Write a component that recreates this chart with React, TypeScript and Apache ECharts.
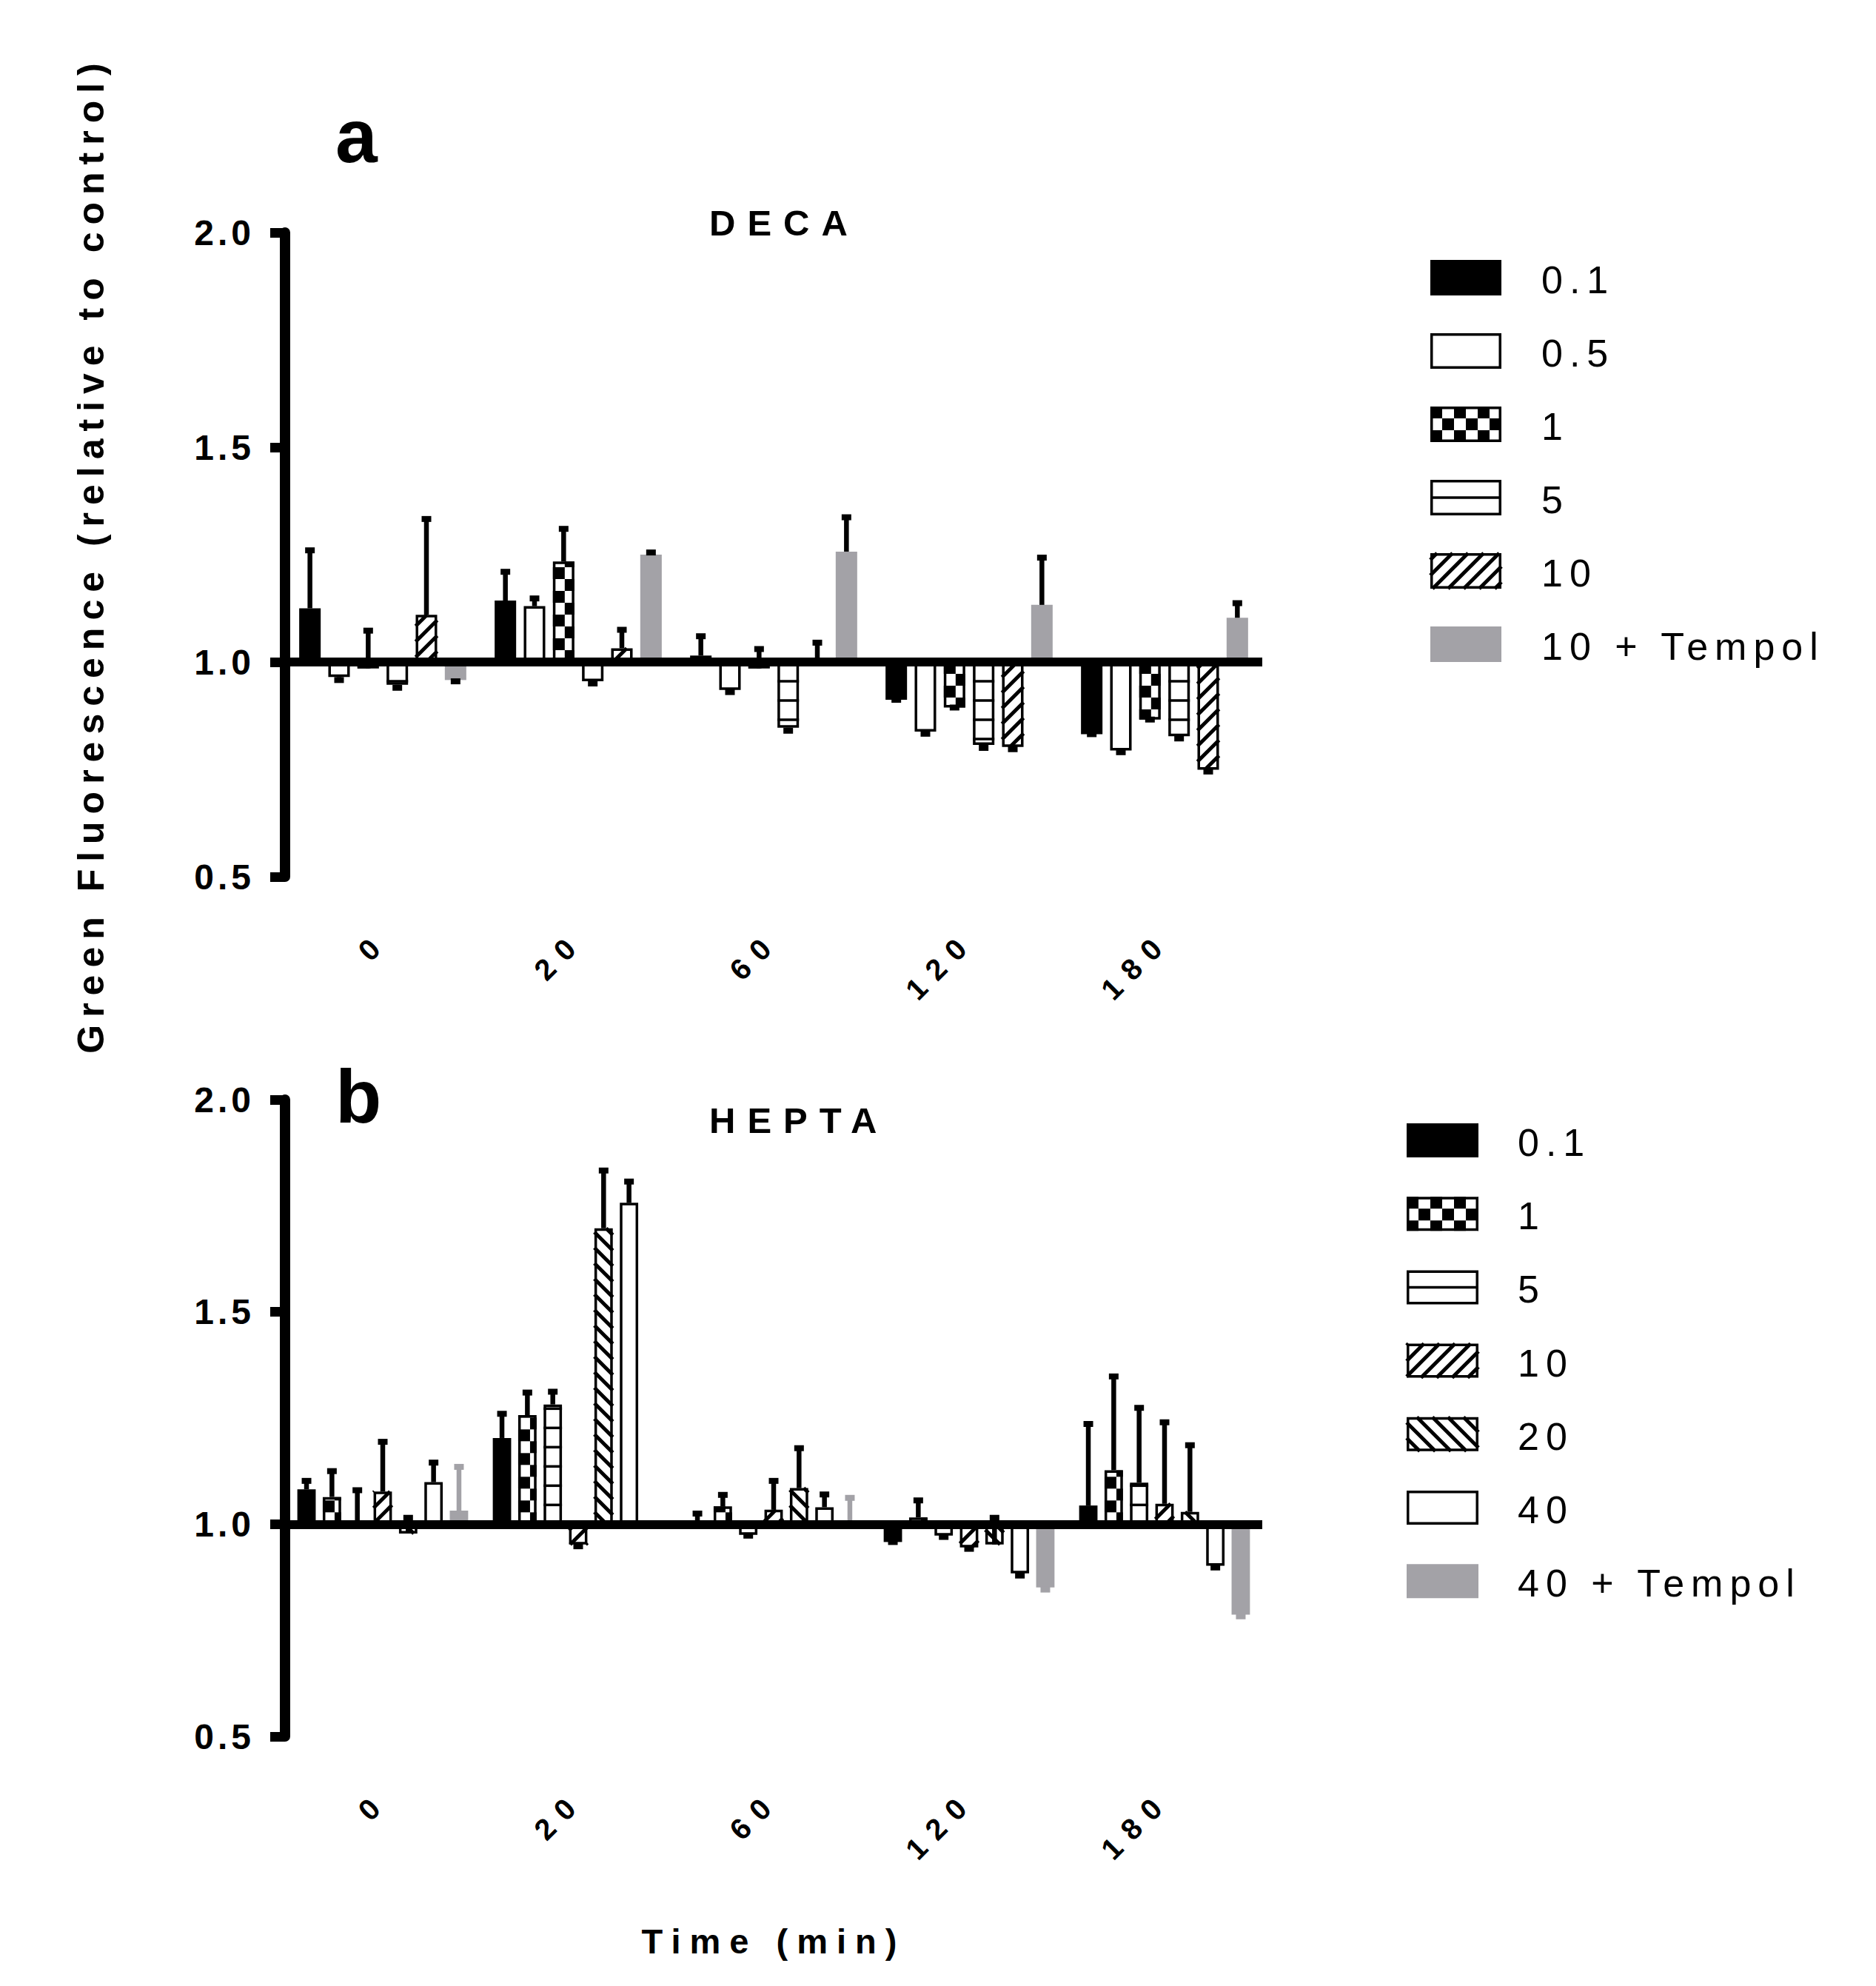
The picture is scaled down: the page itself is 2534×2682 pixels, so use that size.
import React, { useEffect, useRef } from 'react';
import * as echarts from 'echarts';

// ---------------- DATA ----------------
const CATEGORIES = ['0', '20', '60', '120', '180'];

// Panel a: DECA
const DECA_NAMES = ['0.1', '0.5', '1', '5', '10', '10 + Tempol'];
const DECA_01 = [1.125, 1.143, 1.015, 0.912, 0.832];
const DECA_01_ERR = [1.26, 1.21, 1.06, 0.912, 0.832];
const DECA_05 = [0.965, 1.13, 0.935, 0.838, 0.794];
const DECA_05_ERR = [0.958, 1.148, 0.93, 0.833, 0.79];
const DECA_1 = [0.985, 1.234, 0.985, 0.894, 0.866];
const DECA_1_ERR = [1.073, 1.31, 1.03, 0.894, 0.866];
const DECA_5 = [0.947, 0.955, 0.847, 0.807, 0.827];
const DECA_5_ERR = [0.94, 0.95, 0.84, 0.8, 0.822];
const DECA_10 = [1.11, 1.032, 1.005, 0.802, 0.749];
const DECA_10_ERR = [1.333, 1.075, 1.045, 0.797, 0.745];
const DECA_10T = [0.958, 1.25, 1.257, 1.133, 1.103];
const DECA_10T_ERR = [0.955, 1.255, 1.337, 1.243, 1.137];

// Panel b: HEPTA
const HEPTA_NAMES = ['0.1', '1', '5', '10', '20', '40', '40 + Tempol'];
const HEPTA_01 = [1.082, 1.203, 1.003, 0.958, 1.044];
const HEPTA_01_ERR = [1.102, 1.26, 1.025, 0.958, 1.236];
const HEPTA_1 = [1.064, 1.257, 1.042, 1.016, 1.127];
const HEPTA_1_ERR = [1.125, 1.31, 1.069, 1.056, 1.348];
const HEPTA_5 = [1.005, 1.282, 0.975, 0.973, 1.098];
const HEPTA_5_ERR = [1.08, 1.312, 0.973, 0.97, 1.274];
const HEPTA_10 = [1.077, 0.952, 1.034, 0.945, 1.048];
const HEPTA_10_ERR = [1.194, 0.948, 1.102, 0.942, 1.24];
const HEPTA_20 = [0.978, 1.697, 1.085, 0.952, 1.029];
const HEPTA_20_ERR = [1.015, 1.833, 1.179, 1.015, 1.186];
const HEPTA_40 = [1.099, 1.757, 1.04, 0.884, 0.902];
const HEPTA_40_ERR = [1.145, 1.807, 1.07, 0.879, 0.898];
const HEPTA_40T = [1.032, 1.0, 1.0, 0.851, 0.787];
const HEPTA_40T_ERR = [1.135, 1.0, 1.062, 0.846, 0.783];

const Y_TICKS_MIN = 0.5;
const Y_TICKS_MAX = 2.0;
const Y_TICKS_STEP = 0.5;

// ---------------- STYLE ----------------
const FONT = '"Liberation Sans", Arial, Helvetica, sans-serif';
const GRAY = '#a3a2a7';
// letter spacing by font size (px)
const SPACING: Record<number, number> = { 40: 15, 48: 5, 52: 9, 49: 16, 47: 12, 50: 10 };

type Kind = 'solid' | 'white' | 'checker' | 'hlines' | 'fwd' | 'back' | 'gray';

const DECA_KINDS: Kind[] = ['solid', 'white', 'checker', 'hlines', 'fwd', 'gray'];
const HEPTA_KINDS: Kind[] = ['solid', 'checker', 'hlines', 'fwd', 'back', 'white', 'gray'];
const DECA_ERRCOL = ['#000', '#000', '#000', '#000', '#000', '#000'];
const HEPTA_ERRCOL = ['#000', '#000', '#000', '#000', '#000', '#000', GRAY];

function rectEl(x: number, y: number, w: number, h: number, style: any) {
  return { type: 'rect', shape: { x, y, width: w, height: h }, style };
}
function lineEl(x1: number, y1: number, x2: number, y2: number, stroke: string, lw: number) {
  return { type: 'line', shape: { x1, y1, x2, y2 }, style: { stroke, lineWidth: lw, fill: null } };
}

function patternEls(x0: number, y0: number, x1: number, y1: number, kind: Kind, anchorY: number, hlineSp: number) {
  const els: any[] = [];
  const w = x1 - x0;
  const h = y1 - y0;
  const lw = 3.5;
  if (w <= 0 || h <= 0.3) return els;
  if (kind === 'solid') {
    els.push(rectEl(x0, y0, w, h, { fill: '#000' }));
    return els;
  }
  if (kind === 'gray') {
    els.push(rectEl(x0, y0, w, h, { fill: GRAY }));
    return els;
  }
  if (h < 2 * lw + 1) {
    els.push(rectEl(x0, y0, w, h, { fill: '#000' }));
    return els;
  }
  els.push(rectEl(x0, y0, w, h, { fill: '#fff' }));
  if (kind === 'checker') {
    const sq = 16;
    const kStart = Math.floor((y0 - anchorY) / sq);
    const kEnd = Math.ceil((y1 - anchorY) / sq);
    for (let k = kStart; k < kEnd; k++) {
      const ry0 = Math.max(y0, anchorY + k * sq);
      const ry1 = Math.min(y1, anchorY + (k + 1) * sq);
      if (ry1 - ry0 <= 0) continue;
      for (let j = 0; x0 + j * sq < x1; j++) {
        if ((((j + k) % 2) + 2) % 2 !== 0) continue;
        const rx0 = x0 + j * sq;
        const rx1 = Math.min(x1, rx0 + sq);
        els.push(rectEl(rx0, ry0, rx1 - rx0, ry1 - ry0, { fill: '#000' }));
      }
    }
  } else if (kind === 'hlines') {
    const kStart = Math.ceil((y0 - anchorY) / hlineSp);
    const kEnd = Math.floor((y1 - anchorY) / hlineSp);
    for (let k = kStart; k <= kEnd; k++) {
      const yy = anchorY + k * hlineSp;
      if (yy > y0 + 3 && yy < y1 - 3) els.push(lineEl(x0, yy, x1, yy, '#000', 3.5));
    }
  } else if (kind === 'fwd') {
    const sp = 21;
    const cMin = x0 + y0;
    const cMax = x1 + y1;
    for (let c = Math.ceil(cMin / sp) * sp; c <= cMax; c += sp) {
      const xa = Math.max(x0, c - y1);
      const xb = Math.min(x1, c - y0);
      if (xb - xa > 0.5) els.push(lineEl(xa, c - xa, xb, c - xb, '#000', 5));
    }
  } else if (kind === 'back') {
    const sp = 21;
    const cMin = y0 - x1;
    const cMax = y1 - x0;
    for (let c = Math.ceil(cMin / sp) * sp; c <= cMax; c += sp) {
      const xa = Math.max(x0, y0 - c);
      const xb = Math.min(x1, y1 - c);
      if (xb - xa > 0.5) els.push(lineEl(xa, xa + c, xb, xb + c, '#000', 5));
    }
  }
  els.push(rectEl(x0 + lw / 2, y0 + lw / 2, w - lw, h - lw, { fill: null, stroke: '#000', lineWidth: lw }));
  return els;
}

function makeRender(idx: number, n: number, kind: Kind, errColor: string, widthFrac: number, pitchFrac: number) {
  return (params: any, api: any) => {
    const ci = api.value(0) as number;
    const v = api.value(1) as number;
    const e = api.value(2) as number;
    const base = api.coord([ci, 1]);
    const top = api.coord([ci, v]);
    const ep = api.coord([ci, e]);
    const band = api.size([1, 0])[0];
    const cx = base[0] + (idx - (n - 1) / 2) * band * pitchFrac;
    const w = band * widthFrac;
    const y0 = Math.min(base[1], top[1]);
    const y1 = Math.max(base[1], top[1]);
    const children: any[] = patternEls(cx - w / 2, y0, cx + w / 2, y1, kind, base[1], 26);
    if (Math.abs(ep[1] - top[1]) > 0.5) children.push(lineEl(cx, top[1], cx, ep[1], errColor, 6.5));
    children.push(rectEl(cx - 6.5, ep[1] - 4, 13, 8, { fill: errColor }));
    return { type: 'group', children };
  };
}

function panelSeries(
  names: string[], values: number[][], errs: number[][], kinds: Kind[], errCols: string[],
  g: number, widthFrac: number, pitchFrac: number
) {
  const list: any[] = names.map((name, idx) => ({
    type: 'custom',
    name,
    xAxisIndex: g,
    yAxisIndex: g,
    z: 2,
    renderItem: makeRender(idx, names.length, kinds[idx], errCols[idx], widthFrac, pitchFrac),
    encode: { x: 0, y: 1 },
    data: values[idx].map((v, i) => [i, v, errs[idx][i]]),
  }));
  list.push({
    type: 'line',
    name: 'baseline' + g,
    xAxisIndex: g,
    yAxisIndex: g,
    z: 10,
    silent: true,
    data: [],
    markLine: {
      silent: true,
      symbol: ['none', 'none'],
      label: { show: false },
      lineStyle: { color: '#000', width: 12, type: 'solid' },
      emphasis: { disabled: true },
      data: [{ yAxis: 1 }],
    },
  });
  return list;
}

function legendEls(names: string[], kinds: Kind[], x0: number, x1: number, yc0: number, pitch: number, h: number, textX: number) {
  const out: any[] = [];
  names.forEach((name, i) => {
    const yc = yc0 + i * pitch;
    const kind = kinds[i];
    const anchor = kind === 'checker' ? yc - h / 2 : yc;
    out.push(...patternEls(x0, yc - h / 2, x1, yc + h / 2, kind, anchor, 1000));
    out.push({
      type: 'text',
      x: textX,
      y: yc + 3,
      style: { text: name, font: `52px ${FONT}`, fill: '#000', textAlign: 'left', textVerticalAlign: 'middle' },
    });
  });
  return out;
}

function buildOption() {
  const decaValues = [DECA_01, DECA_05, DECA_1, DECA_5, DECA_10, DECA_10T];
  const decaErrs = [DECA_01_ERR, DECA_05_ERR, DECA_1_ERR, DECA_5_ERR, DECA_10_ERR, DECA_10T_ERR];
  const heptaValues = [HEPTA_01, HEPTA_1, HEPTA_5, HEPTA_10, HEPTA_20, HEPTA_40, HEPTA_40T];
  const heptaErrs = [HEPTA_01_ERR, HEPTA_1_ERR, HEPTA_5_ERR, HEPTA_10_ERR, HEPTA_20_ERR, HEPTA_40_ERR, HEPTA_40T_ERR];

  const xAxes = [0, 1].map((g) => ({
    type: 'category',
    gridIndex: g,
    data: CATEGORIES,
    boundaryGap: true,
    axisLine: { show: false },
    axisTick: { show: false },
    splitLine: { show: false },
    axisLabel: {
      rotate: 45, margin: 80, interval: 0, fontSize: 40, fontWeight: 'bold', color: '#000', fontFamily: FONT,
    },
    name: g === 1 ? 'Time (min)' : '',
    nameLocation: 'middle',
    nameGap: 253,
    nameTextStyle: { fontSize: 47, fontWeight: 'bold', color: '#000', fontFamily: FONT },
  }));

  const yAxes = [0, 1].map((g) => ({
    type: 'value',
    gridIndex: g,
    min: Y_TICKS_MIN,
    max: Y_TICKS_MAX,
    interval: Y_TICKS_STEP,
    axisLine: { show: true, lineStyle: { color: '#000', width: 14 } },
    axisTick: { show: true, length: 20, lineStyle: { color: '#000', width: 13 } },
    splitLine: { show: false },
    axisLabel: {
      margin: 41, fontSize: 48, fontWeight: 'bold', color: '#000', fontFamily: FONT,
      formatter: (v: number) => v.toFixed(1),
    },
    name: g === 0 ? 'Green Fluorescence (relative to control)' : '',
    nameLocation: 'middle',
    nameGap: 237,
    nameTextStyle: { fontSize: 50, fontWeight: 'bold', color: '#000', fontFamily: FONT },
  }));

  const graphicEls: any[] = [
    { type: 'text', x: 453, y: 184, style: { text: 'a', font: `bold 102px ${FONT}`, fill: '#000', textAlign: 'left', textVerticalAlign: 'middle' } },
    { type: 'text', x: 453, y: 1481, style: { text: 'b', font: `bold 102px ${FONT}`, fill: '#000', textAlign: 'left', textVerticalAlign: 'middle' } },
    { type: 'text', x: 958, y: 301, style: { text: 'DECA', font: `bold 49px ${FONT}`, fill: '#000', textAlign: 'left', textVerticalAlign: 'middle' } },
    { type: 'text', x: 958, y: 1513, style: { text: 'HEPTA', font: `bold 49px ${FONT}`, fill: '#000', textAlign: 'left', textVerticalAlign: 'middle' } },
    ...legendEls(DECA_NAMES, DECA_KINDS, 1932, 2028, 375, 99, 48, 2082),
    ...legendEls(HEPTA_NAMES, HEPTA_KINDS, 1900, 1997, 1540, 99.2, 46, 2050),
  ];

  return {
    backgroundColor: '#fff',
    animation: false,
    textStyle: { fontFamily: FONT },
    grid: [
      { left: 385, top: 314, width: 1320, height: 870 },
      { left: 385, top: 1485, width: 1320, height: 860 },
    ],
    xAxis: xAxes,
    yAxis: yAxes,
    series: [
      ...panelSeries(DECA_NAMES, decaValues, decaErrs, DECA_KINDS, DECA_ERRCOL, 0, 0.11, 0.149),
      ...panelSeries(HEPTA_NAMES, heptaValues, heptaErrs, HEPTA_KINDS, HEPTA_ERRCOL, 1, 0.094, 0.130),
    ],
    graphic: { elements: graphicEls },
  };
}

export default function App() {
  const ref = useRef<HTMLDivElement>(null);
  useEffect(() => {
    const el = ref.current as HTMLDivElement;
    const chart = echarts.init(el, null, { renderer: 'svg' });
    chart.setOption(buildOption() as any);
    const applySpacing = () => {
      el.querySelectorAll('text').forEach((t) => {
        const fs = Math.round(parseFloat(getComputedStyle(t).fontSize));
        const sp = SPACING[fs];
        if (sp !== undefined) (t as SVGTextElement).style.letterSpacing = sp + 'px';
      });
    };
    applySpacing();
    chart.on('finished', applySpacing);
    return () => {
      chart.dispose();
    };
  }, []);
  return (
    <div
      ref={ref}
      style={{ position: 'absolute', left: 0, top: 0, width: 2534, height: 2682, background: '#fff' }}
    />
  );
}
